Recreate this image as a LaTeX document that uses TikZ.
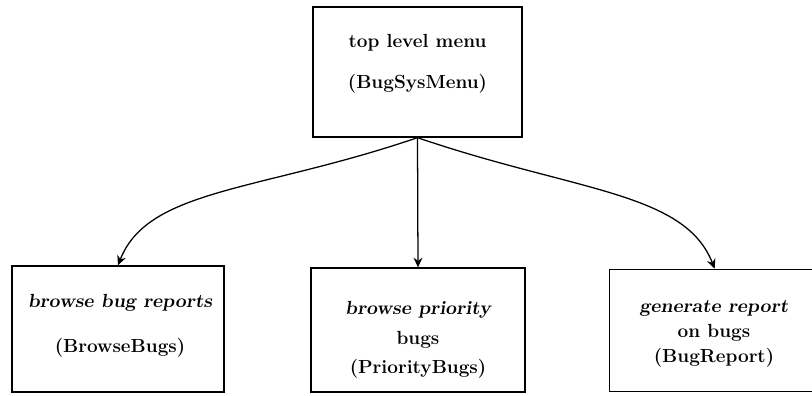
\documentclass[tikz,border=0pt]{standalone}
\usepackage{fontspec}
\usepackage{tikz}
\usetikzlibrary{arrows.meta}

\newfontface\bfslant{lmromanslant10-bold.otf}

\tikzset{
    module/.style={draw, rectangle, inner sep=0pt},
    caption/.style={align=center, font=\fontsize{13.5}{16}\selectfont\bfseries},
}

\begin{document}
\begin{tikzpicture}[>={Stealth[length=2.4mm, width=2.2mm]}, x=0.025cm, y=0.025cm, line width=0.9pt]
    \clip (0,0) rectangle (812,396);
    \node[module, minimum width=5.225cm, minimum height=3.25cm] (menu) at (417.5,324) {};
    \node[module, minimum width=5.3cm, minimum height=3.15cm] (browse) at (118,67) {};
    \node[module, minimum width=5.35cm, minimum height=3.1cm] (priority) at (418,66) {};
    \node[module, minimum width=5.6cm, minimum height=3.05cm, anchor=south west] (report) at (609,4) {};

    \node[caption] (menutxt) at (417.5,332.5) {top level menu\\[13pt] (BugSysMenu)};
    \node[caption] (browsetxt) at (120,70.5) {{\bfslant browse bug reports}\\[16pt] (BrowseBugs)};
    \node[caption] (prioritytxt) at (418,56) {{\bfslant browse priority}\\[5pt] bugs\\[5pt] (PriorityBugs)};
    \node[caption] (reporttxt) at (714,62) {{\bfslant generate report}\\[2pt] on bugs\\[2pt] (BugReport)};

    \draw[->] (menu.south) .. controls +(-158,-54) and +(30,77) .. (browse.north);
    \draw[->] (menu.south) -- (priority.north);
    \draw[->] (menu.south) .. controls +(158,-54) and +(-30,77) .. ([xshift=-0.175cm]report.north);
\end{tikzpicture}
\end{document}
